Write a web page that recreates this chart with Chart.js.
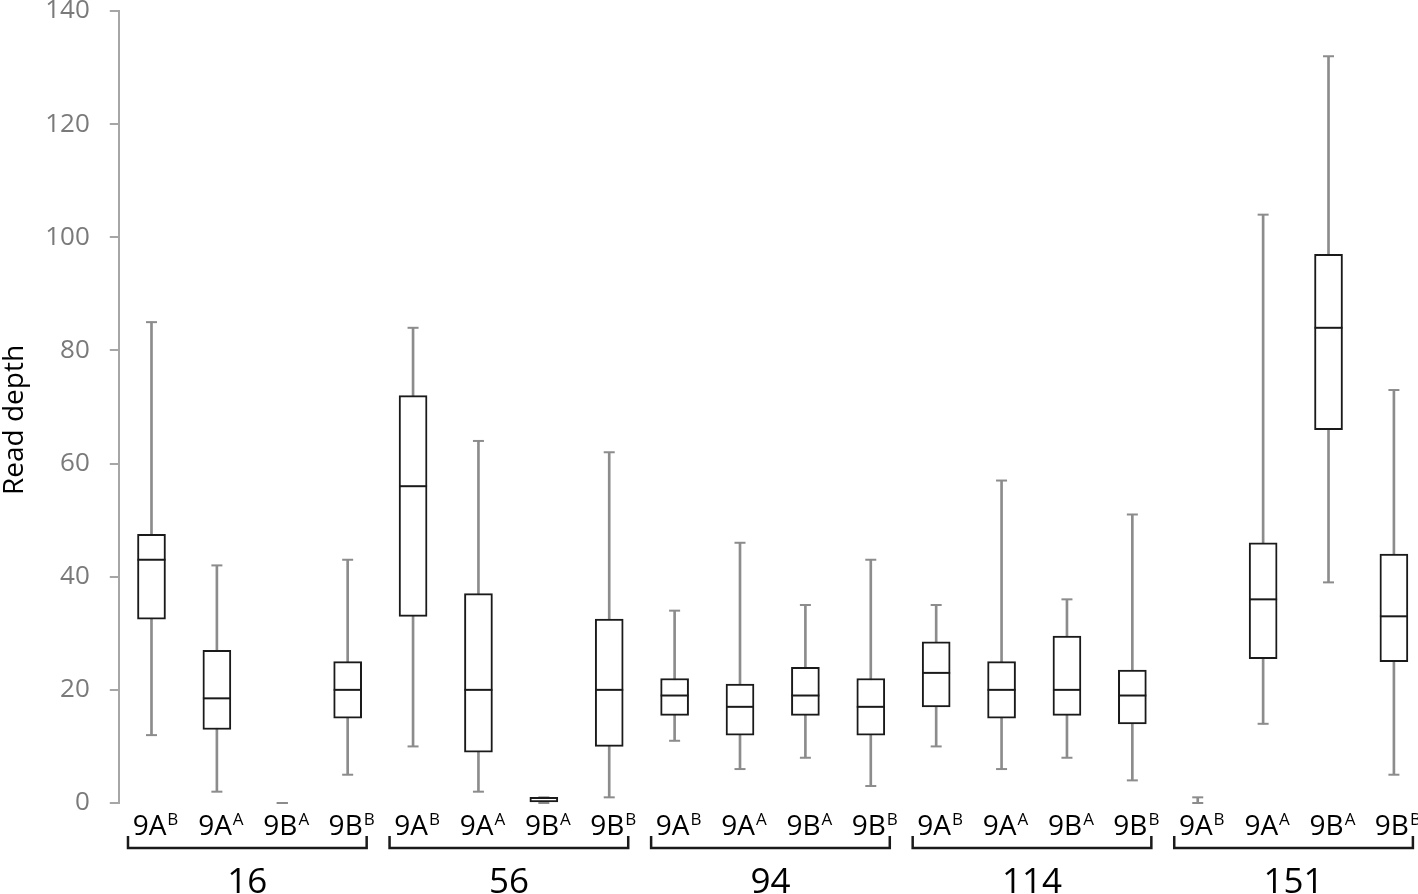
<!DOCTYPE html>
<html>
<head>
<meta charset="utf-8">
<script src="https://cdn.jsdelivr.net/npm/chart.js@4.4.0/dist/chart.umd.min.js"></script>
<style>
	html, body { margin: 0; padding: 0; background: #fff; overflow: hidden; }
	canvas { display: block; }
</style>
</head>
<body>
<canvas id="box-canvas" width="1430" height="894"></canvas>
<script>
// groups along the x axis, four genotypes each
const groups = ["16", "56", "94", "114", "151"];
const genotypes = [["9A", "B"], ["9A", "A"], ["9B", "A"], ["9B", "B"]];

// box plot values, one per category (group x genotype)
const whiskerMin = [12, 2, 0, 5, 10, 2, 0, 1, 11, 6, 8, 3, 10, 6, 8, 4, 0, 14, 39, 5];
const q1 = [32.5, 13, 0, 15, 33, 9, 0, 10, 15.5, 12, 15.5, 12, 17, 15, 15.5, 14, 0, 25.5, 66, 25];
const median = [43, 18.5, 0, 20, 56, 20, 0, 20, 19, 17, 19, 17, 23, 20, 20, 19, 0, 36, 84, 33];
const q3 = [47.5, 27, 0, 25, 72, 37, 1, 32.5, 22, 21, 24, 22, 28.5, 25, 29.5, 23.5, 0, 46, 97, 44];
const whiskerMax = [85, 42, 0, 43, 84, 64, 1, 62, 34, 46, 35, 43, 35, 57, 36, 51, 1, 104, 132, 73];

const categories = [];
groups.forEach((g) => genotypes.forEach((t) => categories.push(g + " " + t[0] + t[1])));

const grey = "#8c8c8c";
const dark = "#1a1a1a";

Chart.defaults.font.family = "Open Sans";
Chart.defaults.font.weight = "500";

// category labels with superscripts, brackets, group labels and y title
const annotate = {
	id: "annotate",
	afterDraw(chart) {
		const { ctx, scales: { x } } = chart;
		ctx.save();
		ctx.fillStyle = "#000";
		ctx.textBaseline = "alphabetic";
		ctx.textAlign = "left";

		categories.forEach((c, i) => {
			const t = genotypes[i % 4];
			ctx.font = "500 28px 'Open Sans'";
			const w1 = ctx.measureText(t[0]).width;
			ctx.font = "500 17px 'Open Sans'";
			const w2 = ctx.measureText(t[1]).width;
			const start = x.getPixelForValue(i) - (w1 + w2 + 1) / 2 + 4;
			ctx.font = "500 28px 'Open Sans'";
			ctx.fillText(t[0], start, 835);
			ctx.font = "500 17px 'Open Sans'";
			ctx.fillText(t[1], start + w1 + 1, 825);
		});

		ctx.strokeStyle = dark;
		ctx.lineWidth = 2.5;
		groups.forEach((g, k) => {
			const left = x.getPixelForValue(k * 4) - 23.5;
			const right = x.getPixelForValue(k * 4 + 3) + 19;
			ctx.beginPath();
			ctx.moveTo(left, 836);
			ctx.lineTo(left, 848);
			ctx.lineTo(right, 848);
			ctx.lineTo(right, 836);
			ctx.stroke();

			ctx.font = "500 35px 'Open Sans'";
			ctx.textAlign = "center";
			ctx.fillText(g, (left + right) / 2, 893);
			ctx.textAlign = "left";
		});

		ctx.translate(15, 420);
		ctx.rotate(-Math.PI / 2);
		ctx.textAlign = "center";
		ctx.textBaseline = "middle";
		ctx.font = "500 28px 'Open Sans'";
		ctx.fillText("Read depth", 0, 0);
		ctx.restore();
	},
};

const boxCanvas = document.getElementById("box-canvas").getContext("2d");

const boxChart = new Chart(boxCanvas, {
	type: "bar",

	data: {
		labels: categories,
		datasets: [
			{
				type: "line",
				label: "median",
				data: median,
				showLine: false,
				pointStyle: "line",
				pointRadius: (c) => (q3[c.dataIndex] - q1[c.dataIndex] > 1 ? 14 : 0),
				pointBorderColor: dark,
				pointBorderWidth: 2,
				clip: false,
				order: 0,
			},
			{
				label: "box",
				data: q1.map((v, i) => [v, q3[i]]),
				backgroundColor: "#fff",
				borderColor: dark,
				borderWidth: 2,
				borderSkipped: false,
				barThickness: 28,
				grouped: false,
				clip: false,
				order: 1,
			},
			{
				type: "line",
				label: "max",
				data: whiskerMax,
				showLine: false,
				pointStyle: "line",
				pointRadius: 5.5,
				pointBorderColor: grey,
				pointBorderWidth: 2,
				clip: false,
				order: 2,
			},
			{
				type: "line",
				label: "min",
				data: whiskerMin,
				showLine: false,
				pointStyle: "line",
				pointRadius: 5.5,
				pointBorderColor: grey,
				pointBorderWidth: 2,
				clip: false,
				order: 2,
			},
			{
				label: "whisker",
				data: whiskerMin.map((v, i) => [v, whiskerMax[i]]),
				backgroundColor: grey,
				barThickness: 2,
				grouped: false,
				clip: false,
				order: 3,
			},
		],
	},

	options: {
		responsive: false,
		animation: false,
		events: [],
		layout: {
			autoPadding: false,
			padding: { left: 25.2, right: 3.4, top: 0, bottom: 91 },
		},
		scales: {
			x: {
				display: false,
			},
			y: {
				min: 0,
				max: 140,
				ticks: {
					stepSize: 20,
					color: "#7a7a7a",
					padding: 20,
					font: { size: 26, lineHeight: 0.85 },
				},
				grid: {
					drawOnChartArea: false,
					drawTicks: true,
					tickLength: 9,
					color: "#a6a6a6",
					lineWidth: 2,
				},
				border: {
					display: true,
					color: "#a6a6a6",
					width: 2,
				},
				afterFit: (scale) => {
					scale.paddingTop = 11;
					scale.paddingBottom = 11;
				},
			},
		},
		plugins: {
			legend: { display: false },
			tooltip: { enabled: false },
		},
	},

	plugins: [annotate],
});
</script>
</body>
</html>
